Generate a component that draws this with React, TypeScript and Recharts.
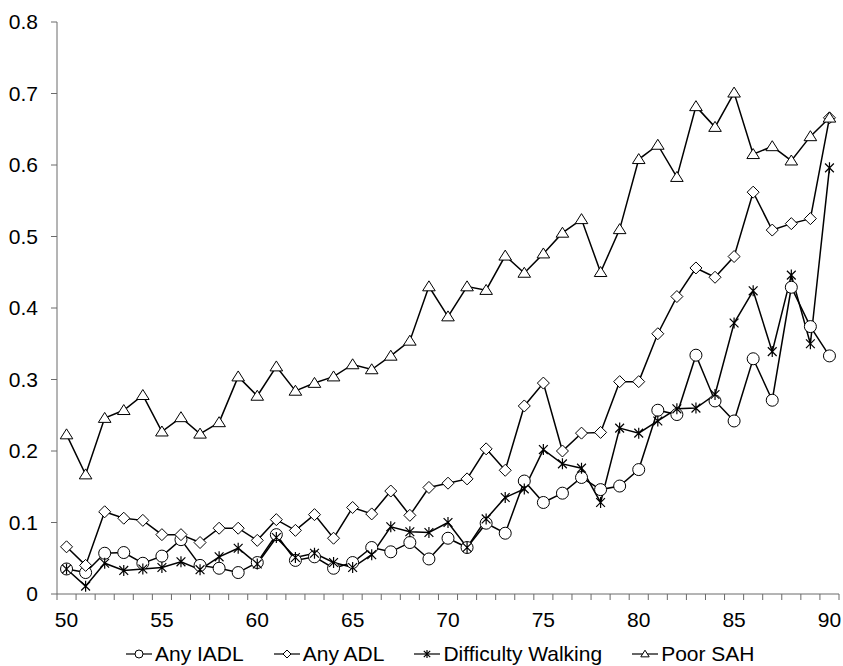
import { LineChart, Line, XAxis, YAxis } from 'recharts';

// age in years, one category per year
const ages = [
  50, 51, 52, 53, 54, 55, 56, 57, 58, 59,
  60, 61, 62, 63, 64, 65, 66, 67, 68, 69,
  70, 71, 72, 73, 74, 75, 76, 77, 78, 79,
  80, 81, 82, 83, 84, 85, 86, 87, 88, 89,
  90,
];

const anyIadl = [
  0.035, 0.030, 0.057, 0.058, 0.043, 0.053, 0.076, 0.040, 0.036, 0.030,
  0.044, 0.083, 0.047, 0.052, 0.036, 0.044, 0.065, 0.059, 0.072, 0.049,
  0.078, 0.065, 0.099, 0.085, 0.158, 0.128, 0.141, 0.163, 0.146, 0.151,
  0.174, 0.257, 0.251, 0.334, 0.270, 0.242, 0.329, 0.271, 0.429, 0.374,
  0.333,
];

const anyAdl = [
  0.066, 0.040, 0.115, 0.106, 0.103, 0.083, 0.083, 0.072, 0.092, 0.092,
  0.075, 0.104, 0.089, 0.111, 0.078, 0.121, 0.112, 0.144, 0.110, 0.149,
  0.155, 0.161, 0.203, 0.173, 0.263, 0.295, 0.200, 0.225, 0.226, 0.297,
  0.297, 0.364, 0.416, 0.456, 0.443, 0.472, 0.562, 0.509, 0.518, 0.525,
  0.666,
];

const difficultyWalking = [
  0.035, 0.011, 0.043, 0.033, 0.035, 0.037, 0.045, 0.034, 0.052, 0.064,
  0.042, 0.079, 0.051, 0.057, 0.044, 0.037, 0.055, 0.094, 0.087, 0.086,
  0.100, 0.065, 0.105, 0.135, 0.147, 0.202, 0.182, 0.176, 0.128, 0.232,
  0.225, 0.242, 0.259, 0.260, 0.279, 0.379, 0.424, 0.339, 0.446, 0.350,
  0.596,
];

const poorSah = [
  0.223, 0.167, 0.246, 0.257, 0.278, 0.227, 0.247, 0.224, 0.240, 0.304,
  0.277, 0.318, 0.284, 0.295, 0.304, 0.321, 0.314, 0.333, 0.354, 0.430,
  0.388, 0.430, 0.425, 0.473, 0.449, 0.476, 0.505, 0.524, 0.450, 0.510,
  0.608, 0.628, 0.583, 0.682, 0.653, 0.701, 0.615, 0.626, 0.606, 0.640,
  0.666,
];

const yTicks = [0, 0.1, 0.2, 0.3, 0.4, 0.5, 0.6, 0.7, 0.8];
const xLabelTicks = [50, 55, 60, 65, 70, 75, 80, 85, 90];

type Shape = 'circle' | 'diamond' | 'star' | 'triangle';

const series: { key: string; name: string; shape: Shape; values: number[] }[] = [
  { key: 'iadl', name: 'Any IADL', shape: 'circle', values: anyIadl },
  { key: 'adl', name: 'Any ADL', shape: 'diamond', values: anyAdl },
  { key: 'walk', name: 'Difficulty Walking', shape: 'star', values: difficultyWalking },
  { key: 'sah', name: 'Poor SAH', shape: 'triangle', values: poorSah },
];

const data = ages.map((age, i) => {
  const row: Record<string, number> = { age };
  series.forEach(s => {
    row[s.key] = s.values[i];
  });
  return row;
});

// tick marks sit between the categories
const boundaries = ages.map(a => a - 0.5).concat(ages[ages.length - 1] + 0.5);
const domain = [boundaries[0], boundaries[boundaries.length - 1]];

const FONT = '"Liberation Sans", Arial, sans-serif';
const AXIS = '#6b6b6b';

function Marker({ shape, cx, cy, size }: { shape: Shape; cx: number; cy: number; size: number }) {
  const h = size / 2;
  const common = { fill: '#fff', stroke: '#000', strokeWidth: 1 };
  if (shape === 'circle') return <circle cx={cx} cy={cy} r={h} {...common} />;
  if (shape === 'diamond') {
    return <polygon points={`${cx},${cy - h} ${cx + h},${cy} ${cx},${cy + h} ${cx - h},${cy}`} {...common} />;
  }
  if (shape === 'triangle') {
    const t = h * 0.95;
    return (
      <polygon
        points={`${cx},${cy - t} ${cx + h * 1.05},${cy + t * 0.75} ${cx - h * 1.05},${cy + t * 0.75}`}
        {...common}
      />
    );
  }
  const d = h * 0.8;
  return (
    <path
      d={`M${cx - d},${cy - d}L${cx + d},${cy + d}M${cx - d},${cy + d}L${cx + d},${cy - d}M${cx},${cy - h}L${cx},${cy + h}`}
      stroke="#000"
      strokeWidth={1.2}
      fill="none"
    />
  );
}

function LegendRow() {
  return (
    <div
      style={{
        position: 'absolute',
        top: 642,
        left: 125,
        display: 'flex',
        gap: 29,
        fontFamily: FONT,
        fontSize: 21,
        lineHeight: '24px',
        color: '#000',
        whiteSpace: 'nowrap',
      }}
    >
      {series.map(s => (
        <div key={s.key} style={{ display: 'flex', alignItems: 'center' }}>
          <svg width={28} height={14} style={{ marginRight: 2 }}>
            <line x1={1} y1={7} x2={27} y2={7} stroke="#000" strokeWidth={1.2} />
            <Marker shape={s.shape} cx={14} cy={7} size={8} />
          </svg>
          <span>{s.name}</span>
        </div>
      ))}
    </div>
  );
}

export default function App() {
  return (
    <div style={{ position: 'absolute', left: 0, top: 0, width: 843, height: 666, background: '#fff' }}>
      <LineChart width={843} height={666} data={data} margin={{ top: 22, right: 4, bottom: 0, left: 0 }}>
        <XAxis
          xAxisId="cat"
          dataKey="age"
          type="number"
          domain={domain}
          ticks={boundaries}
          interval={0}
          tickFormatter={() => ''}
          tickSize={6}
          height={6}
          stroke={AXIS}
          tickLine={{ stroke: AXIS }}
        />
        <XAxis
          xAxisId="lbl"
          dataKey="age"
          type="number"
          domain={domain}
          ticks={xLabelTicks}
          interval={0}
          axisLine={false}
          tickLine={false}
          tickSize={0}
          tickMargin={12}
          height={66}
          tick={{ fill: '#000', fontSize: 21, fontFamily: FONT }}
        />
        <YAxis
          domain={[0, 0.8]}
          ticks={yTicks}
          interval={0}
          width={57}
          tickSize={6}
          tickMargin={13}
          stroke={AXIS}
          tickLine={{ stroke: AXIS }}
          tickFormatter={(v: number) => (v === 0 ? '0' : v.toFixed(1))}
          tick={{ fill: '#000', fontSize: 21, fontFamily: FONT }}
        />
        {series.map(s => (
          <Line
            key={s.key}
            xAxisId="cat"
            dataKey={s.key}
            name={s.name}
            type="linear"
            stroke="#000"
            strokeWidth={1.5}
            isAnimationActive={false}
            dot={(p: any) => (
              <Marker
                key={`${s.key}-${p.index}`}
                shape={s.shape}
                cx={p.cx}
                cy={p.cy}
                size={s.shape === 'star' ? 11 : 12}
              />
            )}
            activeDot={false}
          />
        ))}
      </LineChart>
      <LegendRow />
    </div>
  );
}
